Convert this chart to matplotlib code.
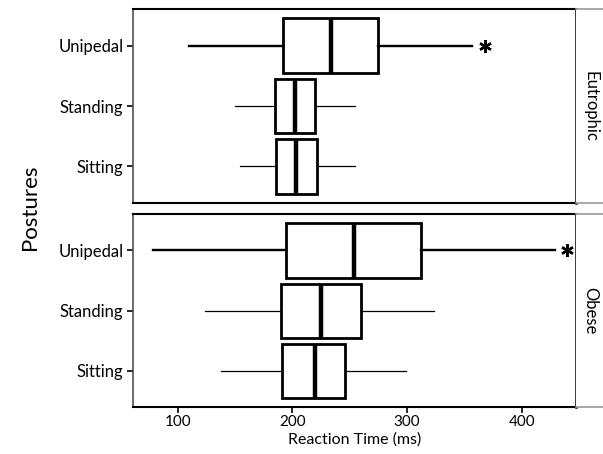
import matplotlib
matplotlib.use("Agg")
import matplotlib.pyplot as plt

plt.rcParams['font.family'] = ['Lato', 'DejaVu Sans']

postures = ["Sitting", "Standing", "Unipedal"]
groups = ["Eutrophic", "Obese"]

# stats per group: order Sitting, Standing, Unipedal
eut_whislo = [154.6, 150.3, 109.9]
eut_q1 = [186.0, 184.6, 191.8]
eut_med = [203.5, 202.3, 233.4]
eut_q3 = [221.5, 220.0, 274.6]
eut_whishi = [254.6, 254.6, 356.9]

ob_whislo = [137.5, 123.8, 78.5]
ob_q1 = [191.3, 190.4, 194.8]
ob_med = [219.4, 224.7, 253.8]
ob_q3 = [245.9, 259.5, 311.9]
ob_whishi = [299.4, 323.5, 428.7]

# significance marker position (Unipedal)
star_x = [367.5, 439.5]

xticks = [100, 200, 300, 400]

W, H = 603, 454
fig = plt.figure(figsize=(W / 100, H / 100), dpi=100)

left = 133 / W
right = 575.7 / W
panels = [(9.3, 202.7), (214.3, 407.0)]

data = [
    (eut_whislo, eut_q1, eut_med, eut_q3, eut_whishi),
    (ob_whislo, ob_q1, ob_med, ob_q3, ob_whishi),
]

axes = []
for gi, (top_px, bot_px) in enumerate(panels):
    b = 1 - bot_px / H
    h = (bot_px - top_px) / H
    ax = fig.add_axes([left, b, right - left, h])
    axes.append(ax)
    lo, q1, med, q3, hi = data[gi]
    stats = []
    for i in range(3):
        stats.append(dict(whislo=lo[i], q1=q1[i], med=med[i], q3=q3[i],
                          whishi=hi[i], fliers=[], label=postures[i]))
    for i in range(3):
        lw_wh = 1.7 if i == 2 else 0.9
        ax.bxp([stats[i]], positions=[i], widths=0.9, vert=False,
               showcaps=False, showfliers=False, patch_artist=True,
               boxprops=dict(facecolor='white', edgecolor='black', linewidth=2.0),
               medianprops=dict(color='black', linewidth=3.2, solid_capstyle='butt'),
               whiskerprops=dict(color='black', linewidth=lw_wh),
               manage_ticks=False)
    ax.plot([star_x[gi]], [2], linestyle='none', marker=(6, 2, 0),
            markersize=9, markeredgewidth=1.7, color='black')
    ax.set_xlim(61, 447)
    ax.set_ylim(-0.6, 2.6)
    ax.set_yticks([0, 1, 2])
    ax.set_yticklabels(postures, fontsize=12)
    ax.tick_params(axis='y', length=4, width=1.2, color='black', pad=3)
    for s in ['top', 'bottom', 'right']:
        ax.spines[s].set_color('black')
        ax.spines[s].set_linewidth(1.5)
    ax.spines['left'].set_color('#444444')
    ax.spines['left'].set_linewidth(1.1)
    ax.spines['right'].set_linewidth(1.8)

    # facet strip
    sax = fig.add_axes([right, b, 1.02 - right, h])
    sax.set_xticks([])
    sax.set_yticks([])
    for s in ['top', 'bottom']:
        sax.spines[s].set_color('#999999')
        sax.spines[s].set_linewidth(1.2)
    sax.spines['left'].set_visible(False)
    sax.spines['right'].set_visible(False)
    sax.text(14.5 / (1.02 * W - 575.7), 0.5, groups[gi], rotation=-90,
             ha='center', va='center', fontsize=12, transform=sax.transAxes)

axes[0].set_xticks([])
axes[0].spines['bottom'].set_color('black')
axes[1].set_xticks(xticks)
axes[1].set_xticklabels([str(t) for t in xticks], fontsize=11)
axes[1].tick_params(axis='x', length=4, width=1.2, color='black', pad=2)
axes[1].set_xlabel("Reaction Time (ms)", fontsize=11.5, labelpad=2)

fig.text(30 / W, 1 - 207 / H, "Postures", rotation=90, ha='center', va='center',
         fontsize=16)

fig.savefig("out.png", dpi=100)
